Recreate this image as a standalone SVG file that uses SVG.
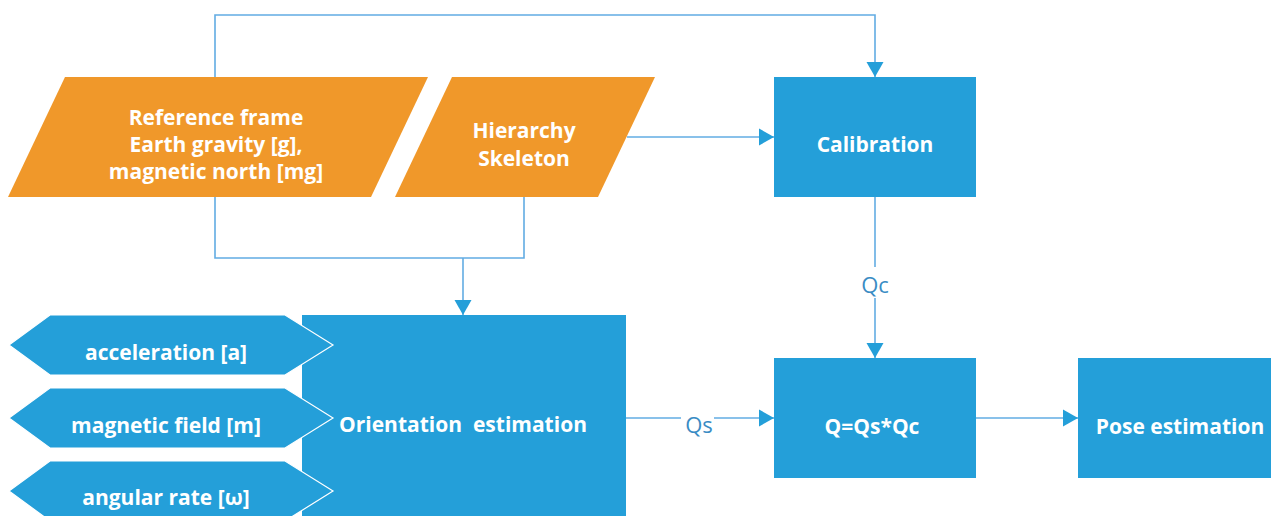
<svg xmlns="http://www.w3.org/2000/svg" width="1273" height="516" viewBox="0 0 1273 516">
<style>
.inp{fill:#F0982A;}
.box{fill:#249FD9;}
.hex{fill:#249FD9;stroke:#FFFFFF;stroke-width:1.2;}
.t{font-family:"Open Sans","Noto Sans",sans-serif;font-weight:bold;font-size:21px;fill:#FFFFFF;text-anchor:middle;}
.lbl{font-family:"Open Sans","Noto Sans",sans-serif;font-size:22px;fill:#3A8CC4;text-anchor:middle;}
.ln{fill:none;stroke:#62ACE3;stroke-width:1.6;}
</style>
<defs>
<marker id="arr" markerUnits="userSpaceOnUse" markerWidth="16" markerHeight="18" refX="15" refY="9" orient="auto" viewBox="0 0 16 18">
<path d="M0,0.5 L15,9 L0,17.5 z" fill="#249FD9"/>
</marker>
</defs>
<rect width="1273" height="516" fill="#FFFFFF"/>
<g id="connectors">
<path class="ln" d="M215,77 V15 H875 V77" marker-end="url(#arr)"/>
<path class="ln" d="M627,137 H774" marker-end="url(#arr)"/>
<path class="ln" d="M215,197 V258 H524 V197"/>
<path class="ln" d="M463,258 V315" marker-end="url(#arr)"/>
<path class="ln" d="M875,197 V267"/>
<path class="ln" d="M875,298 V358" marker-end="url(#arr)"/>
<text class="lbl" x="875" y="293">Qc</text>
<path class="ln" d="M626,418 H681"/>
<path class="ln" d="M714,418 H774" marker-end="url(#arr)"/>
<text class="lbl" x="699" y="433">Qs</text>
<path class="ln" d="M976,418 H1078" marker-end="url(#arr)"/>
</g>
<g id="reference-frame">
<polygon class="inp" points="65,77 428,77 371,197 8,197"/>
<text class="t" x="216" y="125">Reference frame</text>
<text class="t" x="216" y="152">Earth gravity [g],</text>
<text class="t" x="216" y="179">magnetic north [mg]</text>
</g>
<g id="hierarchy-skeleton">
<polygon class="inp" points="452,77 655,77 598,197 395,197"/>
<text class="t" x="524" y="138">Hierarchy</text>
<text class="t" x="524" y="166">Skeleton</text>
</g>
<g id="calibration">
<rect class="box" x="774" y="77" width="202" height="120"/>
<text class="t" x="875" y="152">Calibration</text>
</g>
<g id="orientation-estimation">
<rect class="box" x="302" y="315" width="324" height="210"/>
<text class="t" x="463" y="432" xml:space="preserve">Orientation  estimation</text>
</g>
<g id="acceleration">
<polygon class="hex" points="9,345 50,315 285,315 333,345 285,375 50,375"/>
<text class="t" x="166" y="360">acceleration [a]</text>
</g>
<g id="magnetic-field">
<polygon class="hex" points="9,418 50,388 285,388 333,418 285,448 50,448"/>
<text class="t" x="166" y="433">magnetic field [m]</text>
</g>
<g id="angular-rate">
<polygon class="hex" points="9,491 50,461 285,461 333,491 285,521 50,521"/>
<text class="t" x="166" y="505">angular rate [ω]</text>
</g>
<g id="q-combine">
<rect class="box" x="774" y="358" width="202" height="120"/>
<text class="t" x="872" y="434">Q=Qs*Qc</text>
</g>
<g id="pose-estimation">
<rect class="box" x="1078" y="358" width="193" height="120"/>
<text class="t" x="1180" y="434">Pose estimation</text>
</g>
</svg>
